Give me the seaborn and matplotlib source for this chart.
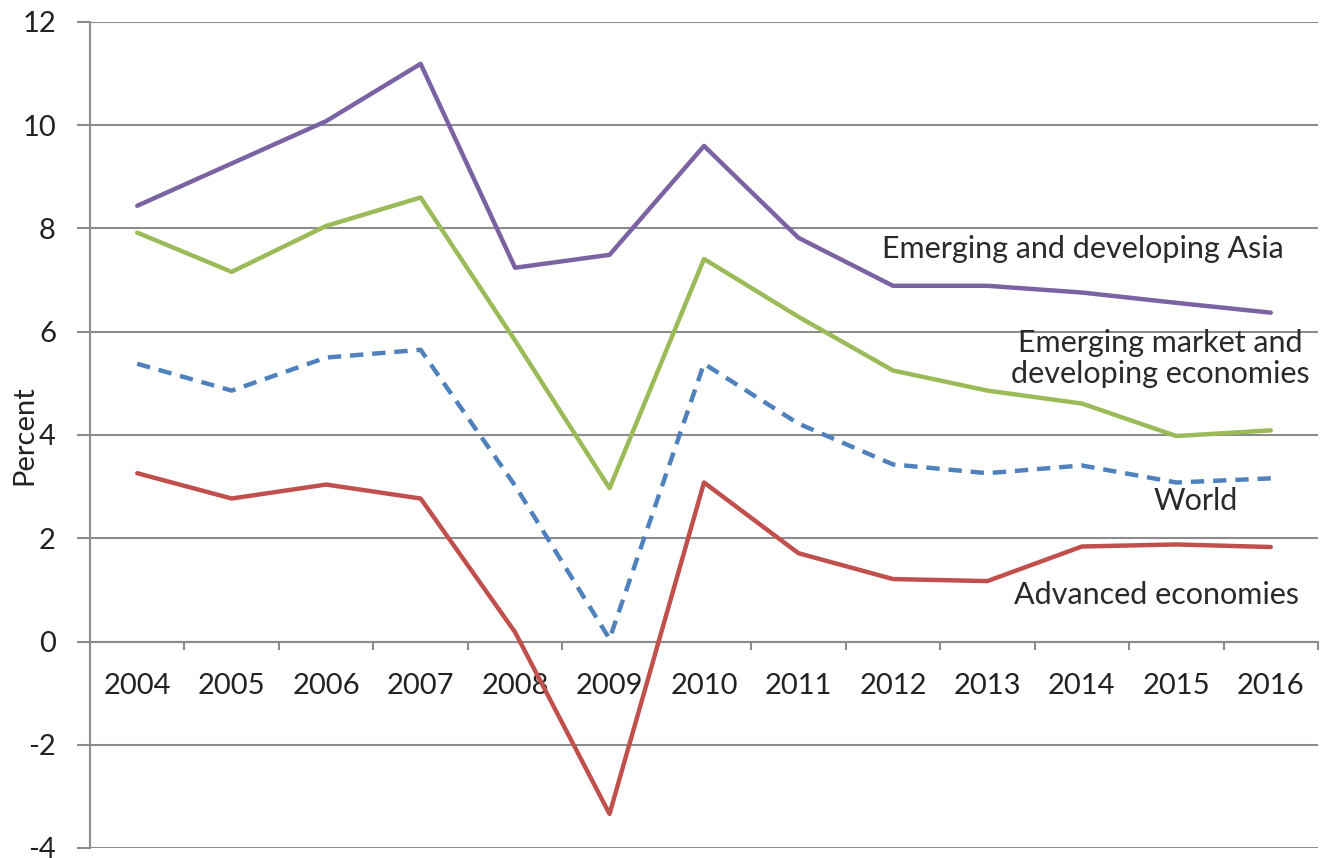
import matplotlib
matplotlib.use("Agg")
import matplotlib.pyplot as plt
from matplotlib.ticker import FixedLocator, NullFormatter
import seaborn as sns
import pandas as pd

# Real GDP growth, percent
years = [2004, 2005, 2006, 2007, 2008, 2009, 2010, 2011, 2012, 2013, 2014, 2015, 2016]
asia = [8.44, 9.26, 10.08, 11.19, 7.24, 7.49, 9.60, 7.82, 6.89, 6.89, 6.76, 6.56, 6.37]
emde = [7.92, 7.16, 8.05, 8.60, 5.83, 2.97, 7.41, 6.29, 5.25, 4.86, 4.61, 3.98, 4.09]
world = [5.38, 4.86, 5.50, 5.65, 3.02, 0.05, 5.38, 4.22, 3.43, 3.26, 3.41, 3.08, 3.16]
advanced = [3.26, 2.77, 3.04, 2.77, 0.18, -3.34, 3.08, 1.71, 1.21, 1.17, 1.84, 1.88, 1.83]

series_names = ["Emerging and developing Asia",
                "Emerging market and\ndeveloping economies",
                "World",
                "Advanced economies"]
y_ticks = [-4, -2, 0, 2, 4, 6, 8, 10, 12]

sns.set_theme(style="white")
plt.rcParams["font.family"] = ["Lato", "DejaVu Sans"]

rows = []
for name, vals in zip(series_names, [asia, emde, world, advanced]):
    for i, (yr, v) in enumerate(zip(years, vals)):
        rows.append({"pos": i, "year": yr, "value": v, "series": name})
df = pd.DataFrame(rows)

palette = {series_names[0]: "#7B62A3",
           series_names[1]: "#9BBB59",
           series_names[2]: "#4F81BD",
           series_names[3]: "#C0504D"}
dashes = {series_names[0]: "",
          series_names[1]: "",
          series_names[2]: (3, 2),
          series_names[3]: ""}

fig = plt.figure(figsize=(13.26, 8.58), dpi=100)
ax = fig.add_axes([90 / 1326, 1 - 848 / 858, (1318 - 90) / 1326, (848 - 22) / 858])

sns.lineplot(data=df, x="pos", y="value", hue="series", style="series",
             palette=palette, dashes=dashes, linewidth=3.2, legend=False,
             ax=ax, zorder=3)

grid_col = "#8C8C8C"
ax.set_xlim(-0.5, len(years) - 0.5)
ax.set_ylim(-4, 12)
ax.set_yticks(y_ticks)
ax.set_yticklabels([str(t) for t in y_ticks])
ax.yaxis.grid(True, color=grid_col, linewidth=1.5)
ax.xaxis.grid(False)

# Category axis crossing at zero, tick marks between categories
ax.spines["bottom"].set_position(("data", 0))
ax.spines["bottom"].set_color(grid_col)
ax.spines["bottom"].set_linewidth(1.5)
ax.spines["left"].set_color(grid_col)
ax.spines["left"].set_linewidth(1.5)
ax.spines["top"].set_visible(False)
ax.spines["right"].set_visible(False)

ax.set_xticks(range(len(years)))
ax.set_xticklabels([str(y) for y in years])
ax.xaxis.set_minor_locator(FixedLocator([i + 0.5 for i in range(len(years))]))
ax.xaxis.set_minor_formatter(NullFormatter())
ax.tick_params(axis="x", which="major", length=0, pad=23, labelsize=21, colors="#222222")
ax.tick_params(axis="x", which="minor", bottom=True, direction="out", length=6,
               width=1.5, color=grid_col)
ax.tick_params(axis="y", which="major", left=True, direction="out", length=9.5,
               width=1.5, color=grid_col, pad=15, labelsize=21, labelcolor="#222222")

ax.set_xlabel("")
ax.set_ylabel("Percent", fontsize=21, color="#222222")
ax.yaxis.set_label_coords(-0.043, 0.5)

label_style = dict(fontsize=22, color="#2a2a2a", ha="center", va="center", zorder=4)
ax.text(10.01, 7.61, series_names[0], **label_style)
ax.text(10.83, 5.48, series_names[1], linespacing=1.15, **label_style)
ax.text(11.21, 2.73, series_names[2], **label_style)
ax.text(10.79, 0.90, series_names[3], **label_style)

fig.savefig("out.png", dpi=100, facecolor="white")
